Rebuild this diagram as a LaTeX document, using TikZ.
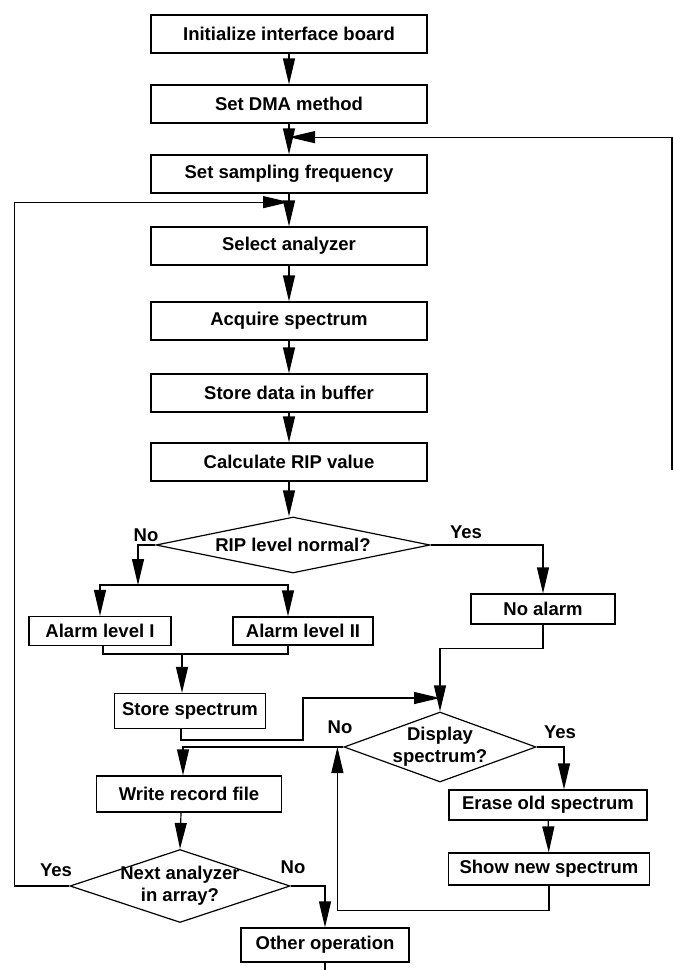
\documentclass[tikz,border=0pt]{standalone}
\usepackage{fontspec}
\setmainfont{Liberation Sans}
\usetikzlibrary{arrows.meta,shapes.geometric,calc}
\tikzset{
    txt/.style={font=\bfseries\fontsize{18.5}{22}\selectfont, inner sep=0pt},
    box/.style={txt, draw, line width=1.2pt, minimum height=38pt},
    dec/.style={draw, diamond, line width=1.2pt, inner sep=0pt},
    arr/.style={line width=1.2pt, -{Triangle[length=26pt,width=12pt]}}
}
\begin{document}
\begin{tikzpicture}[x=1pt, y=-1pt]
    \useasboundingbox (0,0) rectangle (674,970);
    %\draw[thin, dashed] (0,0) rectangle (674,970);
    \foreach \n/\y/\t in {init/34/Initialize interface board, dma/104/Set DMA method,
        samp/174/Set sampling frequency, sel/246/Select analyzer, acq/321/Acquire spectrum,
        buf/393/Store data in buffer, calc/462/Calculate RIP value}
        \node[box, minimum width=276pt] (\n) at (289,\y) {\t};
    \node[dec, minimum width=274pt, minimum height=56pt,
        label={[txt]center:RIP level normal?}] (rip) at (293,545) {};
    \node[box, minimum width=142pt, minimum height=29pt] (al1) at (100,631) {Alarm level I};
    \node[box, minimum width=140pt, minimum height=28pt] (al2) at (303,631) {Alarm level II};
    \node[box, minimum width=144pt, minimum height=30pt] (noal) at (543,609) {No alarm};
    \node[box, minimum width=151pt, minimum height=35pt] (store) at (190,711) {Store spectrum};
    \node[dec, minimum width=192pt, minimum height=70pt,
        label={[txt, align=center]center:Display\\spectrum?}] (disp) at (440,747) {};
    \node[box, minimum width=185pt, minimum height=36pt] (write) at (189,794) {Write record file};
    \node[box, minimum width=198pt, minimum height=30pt] (erase) at (548,805) {Erase old spectrum};
    \node[box, minimum width=201pt, minimum height=32pt] (show) at (549,869) {Show new spectrum};
    \node[dec, minimum width=220pt, minimum height=73pt,
        label={[txt, align=center]center:Next analyzer\\in array?}] (next) at (180,886) {};
    \node[box, minimum width=168pt, minimum height=34pt] (other) at (325,945) {Other operation};
    % branch labels
    \node[txt] (no1) at (146,535) {No};
    \node[txt] (yes1) at (466,532) {Yes};
    \node[txt] (no2) at (340,727) {No};
    \node[txt] (yes2) at (560,732) {Yes};
    \node[txt] (yes3) at (56,870) {Yes};
    \node[txt] (no3) at (293,867) {No};
    \coordinate (rend) at (672,470);
    \coordinate (split) at (138,585);
    \coordinate (merge) at (182,654);
    \coordinate (join) at (disp.north |- 0,698);
    \foreach \a/\b in {init/dma, dma/samp, samp/sel, sel/acq, acq/buf, buf/calc, erase/show}
        \draw[arr] (\a) -- (\b);
    \draw[arr] (calc.south) -- (calc.south |- rip.north);
    \draw[arr] (rend) |- ($(dma.south)!0.44!(samp.north)$);
    \draw[arr] (next.west) -- ++(-55,0) |- ($(samp.south)!0.26!(sel.north)$);
    \draw[arr] (rip.west) -| (split);
    \draw[arr] (split) -| (al1.north);
    \draw[arr] (split) -| ([xshift=-15pt]al2.north);
    \draw[line width=1.2pt] ([xshift=3pt]al1.south) |- (merge) -| ([xshift=-15pt]al2.south);
    \draw[arr] (merge) -- (merge |- store.north);
    \draw[arr] ([xshift=-9pt]store.south) |- (303,740) |- (join);
    \draw[arr] (rip.east) -| (noal.north);
    \draw[arr] (noal.south) -- ++(0,24) -| (disp.north);
    \draw[arr] (disp.west) -| ([xshift=-6pt]write.north);
    \draw[arr] (disp.east) -| ([xshift=16pt]erase.north);
    \draw[arr] (show.south) -- ++(0,25) -| ([xshift=-6pt]disp.west);
    \draw[arr] ([xshift=-8pt]write.south) -- (next.north);
    \draw[arr] (next.east) -| (other.north);
    \draw[line width=1.2pt] (other.south) -- ++(0,10);
\end{tikzpicture}
\end{document}
